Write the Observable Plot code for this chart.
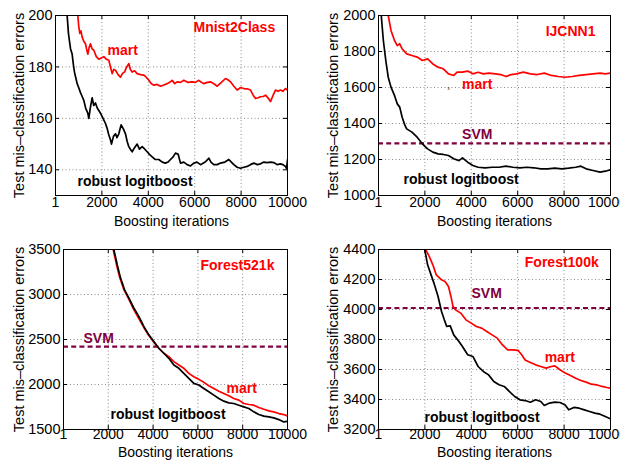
<!DOCTYPE html>
<html><head><meta charset="utf-8">
<script src="https://cdn.jsdelivr.net/npm/d3@7"></script>
<script src="https://cdn.jsdelivr.net/npm/@observablehq/plot@0.6"></script>
<style>
body{margin:0;background:#fff;}
#wrap{position:relative;width:620px;height:462px;overflow:hidden;}
.p{position:absolute;}
.p svg{overflow:visible !important;max-width:none !important;}
svg{font-family:"Liberation Sans",Arial,Helvetica,sans-serif;}
</style></head><body><div id="wrap"></div>
<script>
// ---------- data (iteration, test errors) ----------
const xTicks = [1, 2000, 4000, 6000, 8000, 10000];

const mnistRobust = [[1,260],[503,200],[560,193],[603,190],[650,187],[718,185],[770,181],[819,178],[870,176],[934,173.5],[1000,172],[1078,170],[1150,168.5],[1221,167],[1300,164],[1394,162],[1437,160],[1500,164],[1580,168],[1650,165],[1724,166],[1800,164],[1940,162],[2050,160],[2155,158],[2230,156],[2299,153.5],[2360,152],[2414,150],[2500,153],[2586,154],[2650,152.5],[2730,154],[2830,157.5],[2920,156],[3017,154],[3090,151],[3161,149],[3230,148],[3305,147],[3400,148.5],[3520,150],[3620,148],[3736,149],[3850,148],[3951,147],[4050,146],[4167,145],[4300,144],[4454,144],[4600,143],[4741,142.6],[4850,143],[4957,144],[5070,145],[5172,146.5],[5290,146],[5388,142.6],[5530,143],[5675,142],[5820,141.5],[5963,142.6],[6100,143],[6250,142],[6450,143],[6609,144.5],[6700,143],[6825,142],[6970,142],[7112,142.6],[7300,143],[7471,144],[7580,143],[7687,142],[7830,141],[7974,140.6],[8120,141],[8261,141.3],[8400,142],[8549,142.6],[8700,142],[8836,142.3],[8980,143],[9124,142.8],[9270,143],[9411,142.8],[9550,142],[9698,142.3],[9800,142],[9914,141.3],[9960,140.5],[10000,143.9]];
const mnistMart = [[700,230],[963,200],[1000,196],[1049,193],[1100,194],[1149,191.6],[1220,190],[1293,189],[1340,187],[1394,185],[1450,187.5],[1509,189],[1580,187],[1652,186.5],[1760,184],[1868,183],[1970,183.5],[2083,184],[2190,183],[2299,182.6],[2370,180],[2443,177.4],[2510,179],[2586,178.7],[2700,177],[2802,176],[2890,177.5],[2974,178],[3070,180],[3161,181.3],[3230,179],[3305,178],[3410,178.5],[3520,177.4],[3660,177],[3807,176.8],[3910,176],[4023,174.8],[4130,173.5],[4239,172.9],[4380,173.2],[4526,172.5],[4670,173],[4813,173.5],[4920,174],[5029,174.8],[5140,173.5],[5244,174.2],[5390,174],[5531,174.8],[5700,174],[5891,174.2],[6030,174],[6178,174.8],[6290,174],[6394,173.5],[6540,174],[6681,174.2],[6820,173.5],[6968,172.5],[7150,174],[7328,175.5],[7430,175],[7543,174.2],[7690,172.5],[7830,171],[7980,172],[8118,171.6],[8260,171.5],[8405,171],[8520,169],[8621,167.7],[8730,168],[8836,168.4],[8950,168.5],[9052,169],[9160,168],[9267,166.5],[9380,169],[9483,171],[9590,170.5],[9698,171],[9800,170.5],[9914,171.6],[10000,171]];

const ijcnnRobust = [[1,2600],[120,2000],[210,1861],[315,1750],[420,1657],[540,1602],[690,1556],[811,1509],[916,1491],[1021,1435],[1141,1389],[1216,1370],[1441,1352],[1667,1324],[1892,1287],[2117,1259],[2342,1241],[2568,1231],[2793,1228],[3018,1222],[3243,1204],[3468,1194],[3619,1209],[3844,1185],[4069,1167],[4294,1157],[4595,1154],[4895,1157],[5195,1157],[5495,1163],[5796,1157],[6096,1154],[6396,1157],[6697,1154],[6997,1148],[7297,1148],[7598,1152],[7898,1148],[8198,1152],[8498,1157],[8724,1163],[8949,1148],[9249,1139],[9550,1130],[9775,1135],[10000,1143]];
const ijcnnMart = [[200,2400],[420,2000],[540,1917],[690,1861],[811,1833],[916,1843],[1021,1815],[1216,1787],[1441,1778],[1667,1769],[1892,1750],[2117,1759],[2342,1731],[2568,1713],[2793,1704],[3018,1676],[3243,1667],[3393,1685],[3619,1685],[3844,1691],[4069,1676],[4294,1685],[4520,1676],[4745,1680],[5045,1676],[5270,1672],[5495,1661],[5721,1672],[5946,1676],[6246,1685],[6547,1676],[6847,1672],[7147,1680],[7447,1667],[7748,1661],[8048,1657],[8348,1661],[8649,1667],[8949,1672],[9249,1676],[9550,1680],[9775,1676],[10000,1680]];
const ijcnnSVM = 1290;

const f521Robust = [[1800,4000],[2247,3502],[2396,3334],[2545,3185],[2723,3055],[2917,2962],[3140,2850],[3363,2757],[3586,2645],[3810,2552],[4033,2478],[4256,2403],[4479,2347],[4702,2291],[4926,2217],[5149,2180],[5372,2124],[5595,2068],[5818,2012],[6042,1994],[6265,1956],[6488,1919],[6711,1882],[6935,1845],[7158,1815],[7381,1796],[7604,1789],[7827,1770],[8051,1751],[8274,1733],[8497,1696],[8720,1666],[8943,1648],[9167,1640],[9390,1629],[9613,1610],[9836,1584],[10000,1590]];
const f521Mart = [[1770,4000],[2217,3502],[2366,3334],[2515,3185],[2693,3055],[2887,2962],[3140,2831],[3363,2731],[3586,2634],[3810,2545],[4033,2470],[4256,2403],[4479,2347],[4702,2310],[4926,2254],[5149,2217],[5372,2180],[5595,2124],[5818,2087],[6042,2057],[6265,2024],[6488,1986],[6711,1956],[6935,1926],[7158,1900],[7381,1874],[7604,1845],[7827,1826],[8051,1789],[8274,1778],[8497,1770],[8720,1744],[8943,1725],[9167,1707],[9390,1696],[9613,1677],[9836,1666],[10000,1651]];
const f521SVM = 2420;

const f100Robust = [[1600,5000],[1997,4398],[2117,4298],[2267,4231],[2417,4164],[2568,4087],[2718,3987],[2838,3931],[2943,3887],[3093,3891],[3243,3831],[3468,3787],[3619,3753],[3844,3698],[4069,3687],[4294,3620],[4520,3587],[4745,3564],[4970,3520],[5195,3498],[5420,3487],[5646,3453],[5871,3420],[6096,3398],[6321,3393],[6547,3382],[6772,3398],[6997,3387],[7147,3360],[7372,3376],[7598,3382],[7823,3380],[8048,3364],[8198,3331],[8423,3347],[8649,3342],[8874,3331],[9099,3320],[9324,3309],[9550,3302],[9775,3287],[10000,3271]];
const f100Mart = [[1700,4700],[2042,4398],[2192,4353],[2342,4298],[2492,4231],[2718,4198],[2868,4187],[3018,4153],[3123,4087],[3213,4020],[3318,3998],[3544,3976],[3769,3931],[3994,3909],[4219,3887],[4444,3876],[4670,3853],[4895,3831],[5120,3809],[5345,3764],[5571,3731],[5796,3731],[6021,3727],[6171,3698],[6321,3664],[6547,3647],[6772,3631],[6997,3620],[7222,3609],[7447,3620],[7598,3624],[7823,3598],[8048,3576],[8273,3560],[8499,3542],[8724,3527],[8949,3516],[9174,3502],[9399,3498],[9625,3487],[9850,3480],[10000,3476]];
const f100SVM = 4010;

const mnistYTicks = [140, 160, 180, 200];
const ijcnnYTicks = [1000, 1200, 1400, 1600, 1800, 2000];
const f521YTicks = [1500, 2000, 2500, 3000, 3500];
const f100YTicks = [3200, 3400, 3600, 3800, 4000, 4200, 4400];

const RED = "#ff0000", SVMC = "#800040";

const panels = [
  {left: 0, top: 0, W: 310, ml: 55, mr: 23, mt: 15, mb: 36, xlo: 30, xtp: 2, ylo: 42, edge: false, domain: [130, 200], yTicks: mnistYTicks,
   robust: mnistRobust, mart: mnistMart, svm: null,
   labels: [{x: 5948, y: 195.3, text: "Mnist2Class", color: RED}, {x: 2241, y: 186.4, text: "mart", color: RED}, {x: 948, y: 135.4, text: "robust logitboost", color: "black"}]},
  {left: 310, top: 0, W: 330, ml: 68, mr: 30, mt: 15, mb: 36, xlo: 30, xtp: 2, ylo: 51, edge: true, domain: [1000, 2000], yTicks: ijcnnYTicks,
   robust: ijcnnRobust, mart: ijcnnMart, svm: ijcnnSVM,
   labels: [{x: 7207, y: 1911, text: "IJCNN1", color: RED}, {x: 3604, y: 1617, text: "mart", color: RED}, {x: 3604, y: 1339, text: "SVM", color: SVMC}, {x: 1081, y: 1089, text: "robust logitboost", color: "black"}],
   speck: {x: 3018, y: 1594}},
  {left: 0, top: 231, W: 310, ml: 63, mr: 23, mt: 18, mb: 33, xlo: 27, xtp: 0, ylo: 50, edge: false, domain: [1500, 3500], yTicks: f521YTicks,
   robust: f521Robust, mart: f521Mart, svm: f521SVM,
   labels: [{x: 6116, y: 3327, text: "Forest521k", color: RED}, {x: 893, y: 2511, text: "SVM", color: SVMC}, {x: 7277, y: 1953, text: "mart", color: RED}, {x: 2098, y: 1662, text: "robust logitboost", color: "black"}]},
  {left: 310, top: 231, W: 330, ml: 68, mr: 30, mt: 18, mb: 33, xlo: 27, xtp: 0, ylo: 51, edge: true, domain: [3200, 4400], yTicks: f100YTicks,
   robust: f100Robust, mart: f100Mart, svm: f100SVM,
   labels: [{x: 6306, y: 4313, text: "Forest100k", color: RED}, {x: 4009, y: 4107, text: "SVM", color: SVMC}, {x: 7162, y: 3680, text: "mart", color: RED}, {x: 1982, y: 3280, text: "robust logitboost", color: "black"}]}
];

const wrap = document.getElementById("wrap");
for (const p of panels) {
  const W = p.W, H = 231;
  const iw = W - p.ml - p.mr, ih = H - p.mt - p.mb;
  const grid = {stroke: "#8a8a8a", strokeOpacity: 1, strokeDasharray: "1,2.5", strokeWidth: 1};
  const mainTicks = p.edge ? xTicks.slice(0, -1) : xTicks;
  const axisOpts = {tickSize: 0, tickPadding: p.xtp, tickFormat: d => String(d), fontSize: 14, fill: "black"};
  const marks = [
    Plot.gridX(xTicks, grid),
    Plot.gridY(p.yTicks, grid),
    p.svm != null ? Plot.ruleY([p.svm], {stroke: SVMC, strokeWidth: 2.2, strokeDasharray: "5,3.2"}) : null,
    Plot.line(p.mart, {stroke: RED, strokeWidth: 1.7, clip: true}),
    Plot.line(p.robust, {stroke: "black", strokeWidth: 1.7, clip: true}),
    Plot.ruleX(xTicks, {insetTop: ih - 4, stroke: "black"}),
    Plot.ruleX(xTicks, {insetBottom: ih - 4, stroke: "black"}),
    Plot.ruleY(p.yTicks, {insetRight: iw - 4, stroke: "black"}),
    Plot.ruleY(p.yTicks, {insetLeft: iw - 4, stroke: "black"}),
    Plot.text(p.labels, {x: "x", y: "y", text: "text", fill: "color", textAnchor: "start", fontWeight: "bold", fontSize: 14}),
    p.speck ? Plot.text([p.speck], {x: "x", y: "y", text: () => "з", fontSize: 5, fill: "#333"}) : null,
    Plot.frame({stroke: "black", strokeWidth: 1}),
    Plot.axisX(mainTicks, {...axisOpts, label: "Boosting iterations", labelAnchor: "center", labelArrow: "none", labelOffset: p.xlo}),
    p.edge ? Plot.axisX(xTicks.slice(-1), {...axisOpts, dx: -3, label: null}) : null,
    Plot.axisY(p.yTicks, {tickSize: 0, tickPadding: 3, tickFormat: d => String(d), fontSize: 14.5, fill: "black",
      label: "Test mis\u2013classification errors", labelAnchor: "center", labelArrow: "none", labelOffset: p.ylo})
  ].filter(Boolean);
  const chart = Plot.plot({
    width: W, height: H,
    marginLeft: p.ml, marginRight: p.mr, marginTop: p.mt, marginBottom: p.mb,
    x: {domain: [1, 10000]},
    y: {domain: p.domain},
    style: {fontFamily: '"Liberation Sans", Arial, sans-serif', fontSize: "14px", color: "black", background: "transparent", overflow: "visible", maxWidth: "none"},
    marks
  });
  const d = document.createElement("div");
  d.className = "p";
  d.style.left = p.left + "px";
  d.style.top = p.top + "px";
  d.style.width = W + "px";
  d.appendChild(chart);
  wrap.appendChild(d);
}
</script></body></html>
